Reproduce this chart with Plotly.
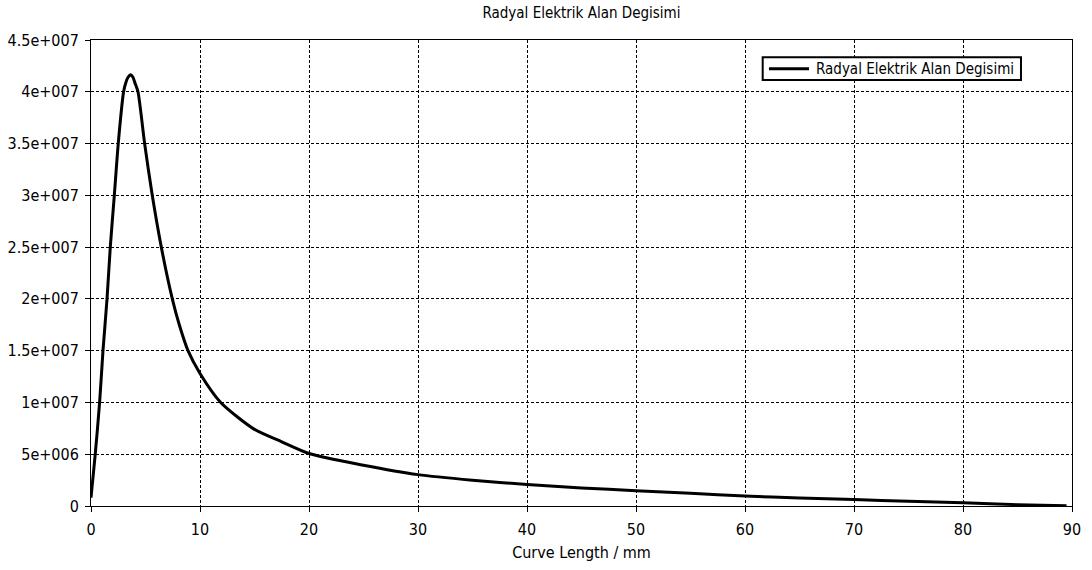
import plotly.graph_objects as go

# Curve Length (mm)
curve_length = [0, 0.39, 0.79, 1.1, 1.47, 1.77, 2.14, 2.5, 2.99, 3.2, 3.4, 3.63, 3.85, 4.05,
                4.31, 4.92, 5.62, 6.45, 7.46, 8.1, 8.9, 10, 11.9, 15, 17.5, 20, 25, 30, 35,
                40, 45, 50, 55, 60, 65, 70, 75, 80, 85, 89.5]
# Radial electric field (V/m)
e_field = [0.8e6, 5e6, 10e6, 15e6, 20e6, 25e6, 30e6, 35e6, 40e6, 40.9e6, 41.4e6, 41.65e6,
           41.4e6, 40.8e6, 40e6, 35e6, 30e6, 25e6, 20e6, 17.5e6, 15e6, 12.8e6, 10e6, 7.4e6,
           6.2e6, 5.07e6, 3.94e6, 3.03e6, 2.49e6, 2.07e6, 1.75e6, 1.48e6, 1.23e6, 0.97e6,
           0.77e6, 0.63e6, 0.45e6, 0.32e6, 0.13e6, 0.02e6]

x_ticks = [0, 10, 20, 30, 40, 50, 60, 70, 80, 90]
y_ticks = [0, 5e6, 10e6, 15e6, 20e6, 25e6, 30e6, 35e6, 40e6, 45e6]
y_tick_labels = ["0", "5e+006", "1e+007", "1.5e+007", "2e+007", "2.5e+007",
                 "3e+007", "3.5e+007", "4e+007", "4.5e+007"]

series_name = "Radyal Elektrik Alan Degisimi"
chart_title = "Radyal Elektrik Alan Degisimi"
x_title = "Curve Length / mm"

FONT = "DejaVu Sans Condensed, DejaVu Sans, sans-serif"

fig = go.Figure()
fig.add_trace(go.Scatter(
    x=curve_length, y=e_field, mode="lines",
    line=dict(color="black", width=3, shape="spline", smoothing=0.7),
    name=series_name, showlegend=False,
))

axis_common = dict(
    showline=True, linecolor="black", linewidth=1, mirror=True,
    showgrid=True, gridcolor="black", gridwidth=1, griddash="3px,2px",
    ticks="outside", ticklen=5, tickcolor="black", zeroline=False,
    tickfont=dict(family=FONT, size=16, color="black"), automargin=False,
)

fig.update_xaxes(range=[0, 90], tickvals=x_ticks, ticklabelstandoff=4,
                 title=dict(text=x_title, font=dict(family=FONT, size=16, color="black"),
                            standoff=8),
                 **axis_common)
fig.update_yaxes(range=[0, 45e6], tickvals=y_ticks, ticktext=y_tick_labels,
                 ticklabelstandoff=3, **axis_common)

# Manual legend box (matches the original boxed legend)
fig.add_shape(type="rect", xref="paper", yref="paper",
              x0=0.6847, x1=0.948, y0=0.914, y1=0.9629,
              line=dict(color="black", width=2), fillcolor="white", layer="above")
fig.add_shape(type="line", xref="paper", yref="paper",
              x0=0.6911, x1=0.7319, y0=0.9384, y1=0.9384,
              line=dict(color="black", width=3), layer="above")
fig.add_annotation(xref="paper", yref="paper", x=0.7375, y=0.9384,
                   xanchor="left", yanchor="middle", showarrow=False,
                   text=series_name,
                   font=dict(family=FONT, size=15, color="black"))

fig.update_layout(
    width=1092, height=570,
    margin=dict(l=91, r=20, t=40, b=64),
    paper_bgcolor="white", plot_bgcolor="white",
    title=dict(text=chart_title, xref="paper", x=0.5, xanchor="center",
               y=0.977, yanchor="middle",
               font=dict(family=FONT, size=15, color="black")),
    showlegend=False,
)

fig.write_html("out.html")
